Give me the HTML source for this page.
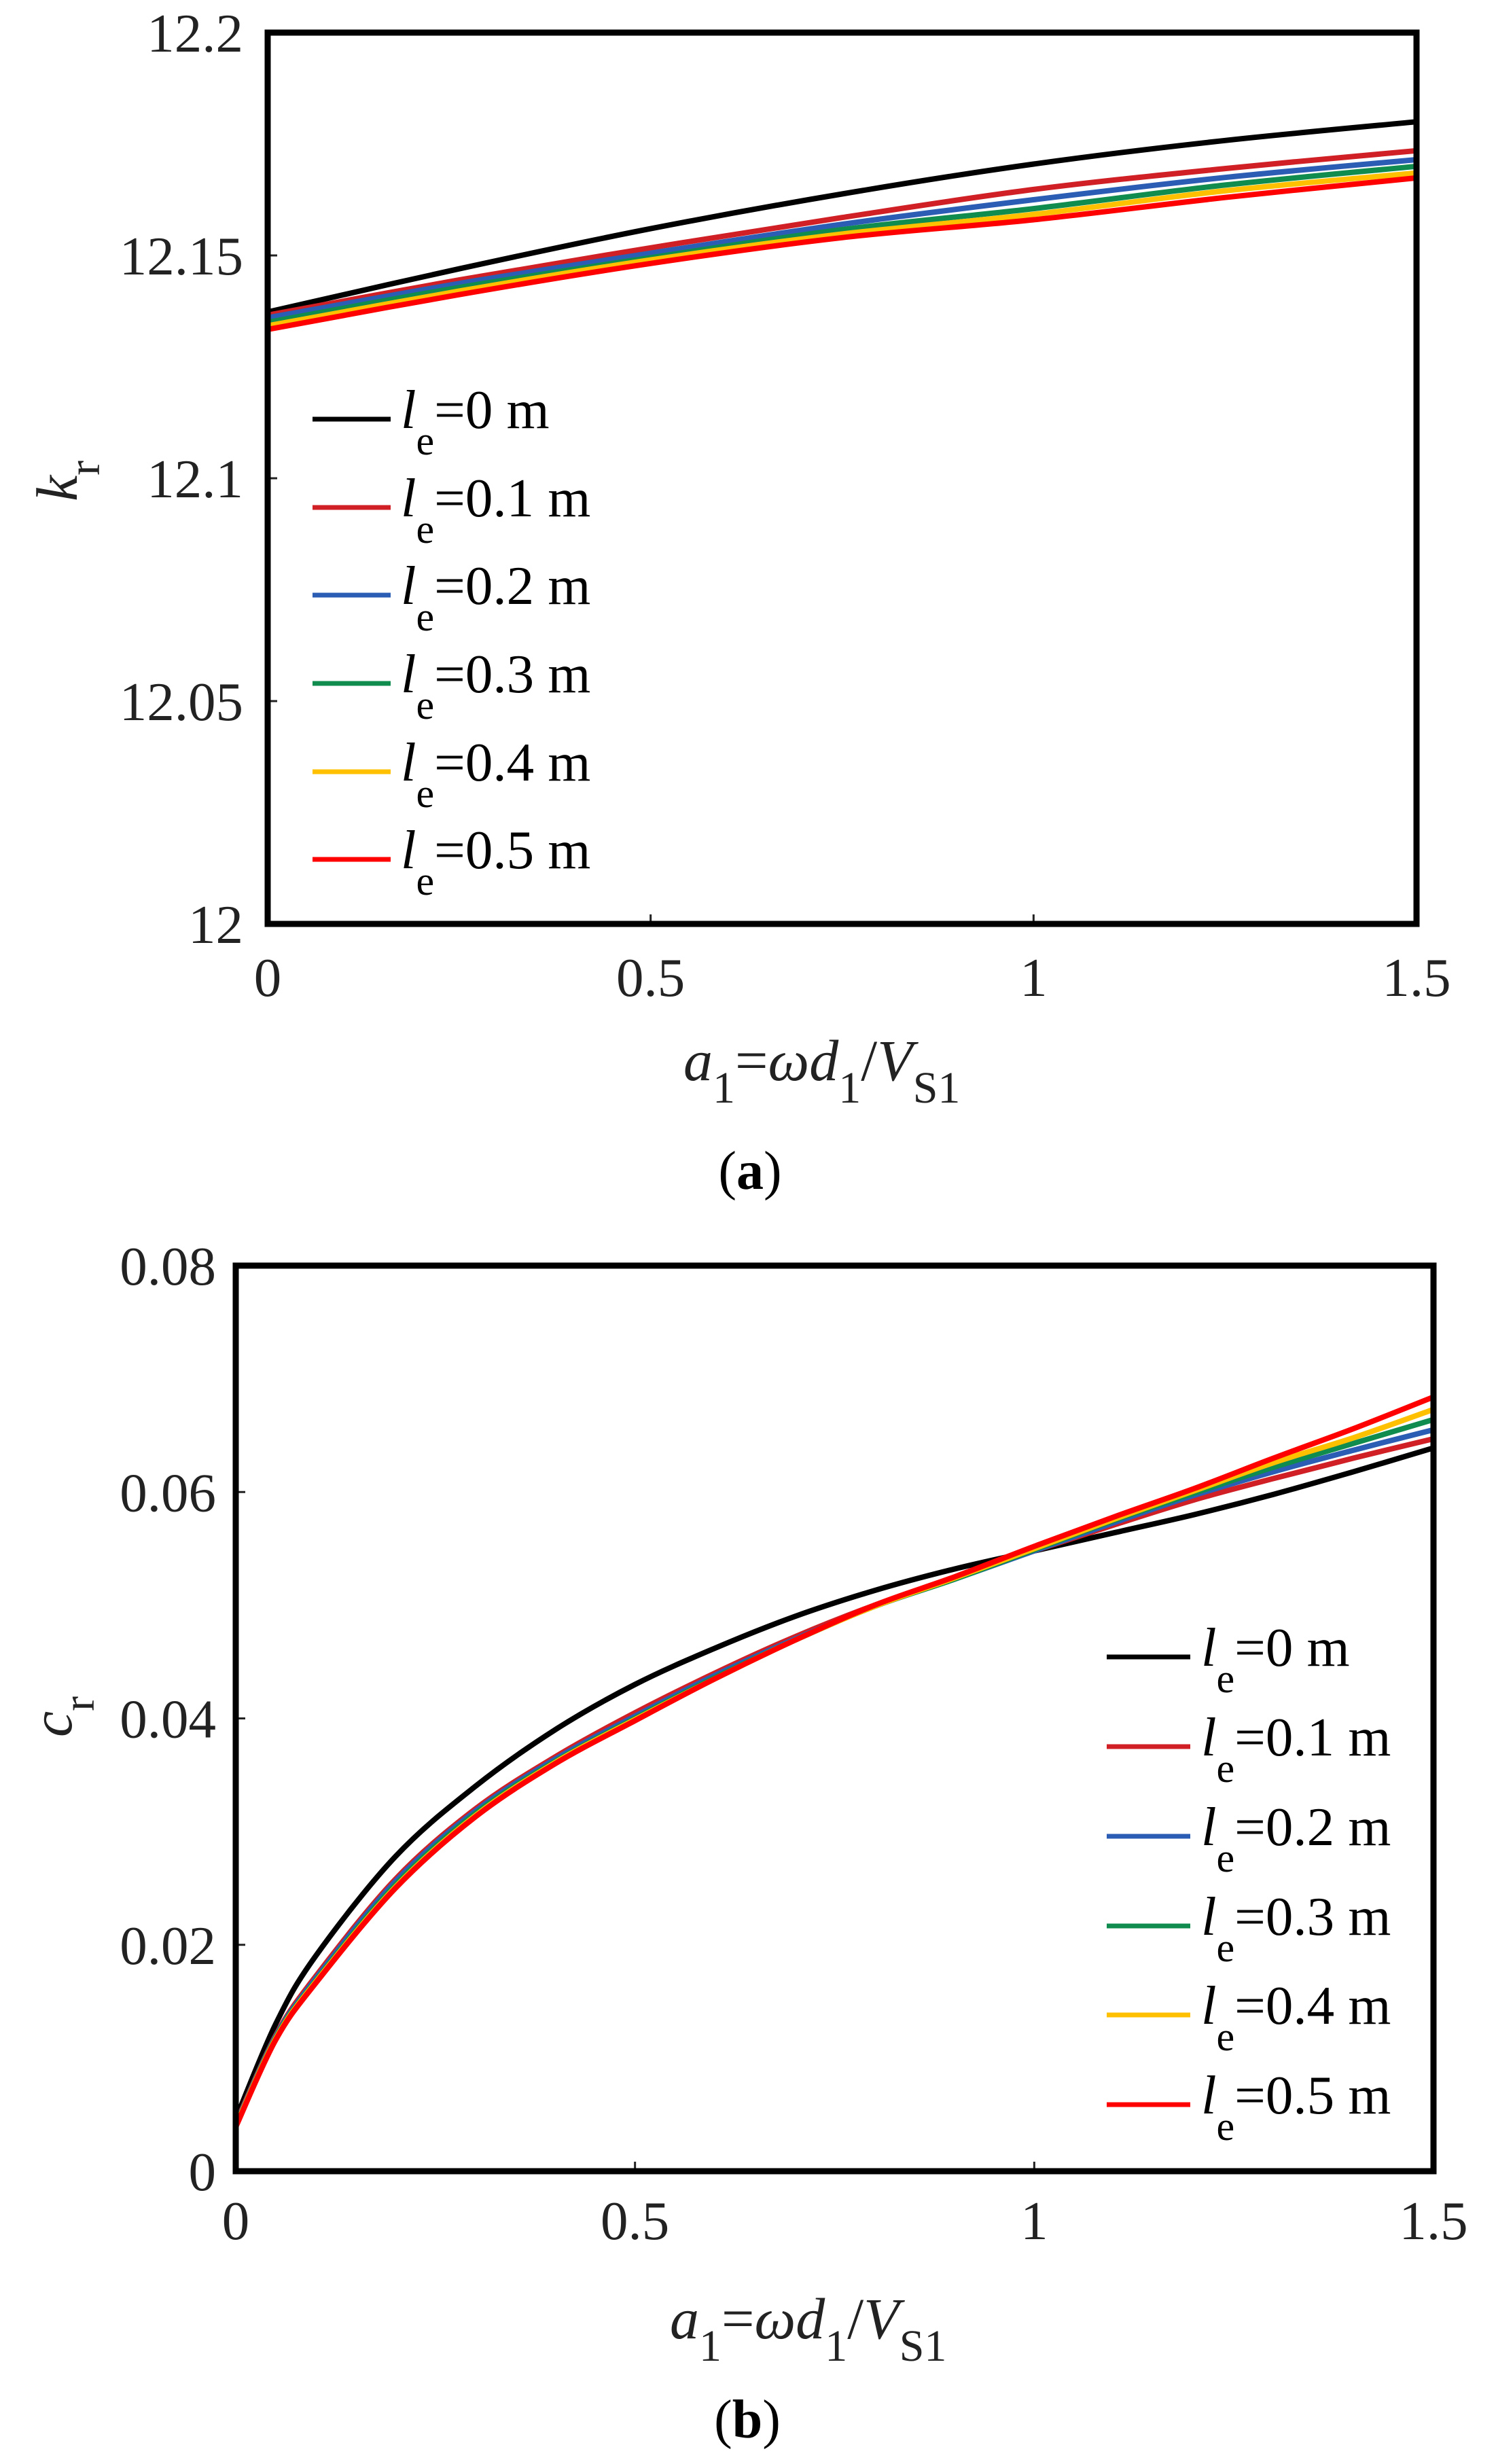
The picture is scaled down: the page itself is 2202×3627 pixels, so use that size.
<!DOCTYPE html>
<html><head><meta charset="utf-8"><style>
html,body{margin:0;padding:0;background:#fff;}
svg{display:block;font-family:"Liberation Serif","Times New Roman",serif;}
text{font-family:"Liberation Serif","Times New Roman",serif;}
</style></head><body>
<svg id="fig" width="2202" height="3627" viewBox="0 0 2202 3627" xmlns="http://www.w3.org/2000/svg" font-family="Liberation Serif, serif"></svg>
<script>
// ---- Chart (a) data ----
const kX = [0, 0.25, 0.5, 0.75, 1.0, 1.25, 1.5];
const kBlack  = [12.1373, 12.1470, 12.1560, 12.1638, 12.1705, 12.1758, 12.1800];
const kRed01  = [12.1366, 12.1445, 12.1517, 12.1585, 12.1648, 12.1695, 12.1735];
const kBlue   = [12.1360, 12.1437, 12.1505, 12.1570, 12.1625, 12.1675, 12.1715];
const kGreen  = [12.1350, 12.1428, 12.1495, 12.1558, 12.1605, 12.1658, 12.1700];
const kYellow = [12.1342, 12.1420, 12.1490, 12.1548, 12.1592, 12.1645, 12.1685];
const kRed05  = [12.1334, 12.1412, 12.1482, 12.1540, 12.1580, 12.1630, 12.1674];
const kYTicks = [12, 12.05, 12.1, 12.15, 12.2];
const kYTickLabels = ["12", "12.05", "12.1", "12.15", "12.2"];
const xTicks = [0, 0.5, 1, 1.5];
const xTickLabels = ["0", "0.5", "1", "1.5"];
// ---- Chart (b) data ----
const cX = [0, 0.05, 0.1, 0.2, 0.3, 0.4, 0.5, 0.6, 0.7, 0.8, 0.9, 1.0, 1.1, 1.2, 1.3, 1.4, 1.5];
const cBlack  = [0.0046,0.0130,0.0190,0.0278,0.0340,0.0390,0.0430,0.0462,0.0490,0.0513,0.0532,0.0548,0.0564,0.0580,0.0598,0.0618,0.0639];
const cRed01  = [0.0042,0.0120,0.0172,0.0258,0.0320,0.0366,0.0405,0.0440,0.0472,0.0500,0.0524,0.0548,0.0571,0.0593,0.0612,0.0630,0.0647];
const cBlue   = [0.0041,0.0119,0.0170,0.0256,0.0318,0.0364,0.0402,0.0438,0.0470,0.0499,0.0523,0.0548,0.0573,0.0597,0.0618,0.0637,0.0655];
const cGreen  = [0.0040,0.0118,0.0168,0.0253,0.0316,0.0362,0.0400,0.0436,0.0469,0.0499,0.0523,0.0549,0.0575,0.0599,0.0622,0.0643,0.0664];
const cYellow = [0.0040,0.0117,0.0167,0.0251,0.0314,0.0361,0.0399,0.0435,0.0469,0.0499,0.0524,0.0550,0.0576,0.0601,0.0626,0.0648,0.0673];
const cRed05  = [0.0039,0.0116,0.0166,0.0250,0.0313,0.0360,0.0398,0.0435,0.0469,0.0500,0.0525,0.0552,0.0578,0.0603,0.0630,0.0656,0.0684];
const cYTicks = [0, 0.02, 0.04, 0.06, 0.08];
const cYTickLabels = ["0", "0.02", "0.04", "0.06", "0.08"];
const legendLabels = ["=0 m", "=0.1 m", "=0.2 m", "=0.3 m", "=0.4 m", "=0.5 m"];
const seriesNames = ["le-0", "le-0.1", "le-0.2", "le-0.3", "le-0.4", "le-0.5"];
const colors = ["#000000", "#d01f25", "#2b5db5", "#0f8c4e", "#ffc000", "#ff0000"];

const NS = "http://www.w3.org/2000/svg";
const FF = "Liberation Serif, Times New Roman, serif";
const svg = document.getElementById("fig");
function mk(tag, attrs, parent) {
  const e = document.createElementNS(NS, tag);
  for (const k in attrs) e.setAttribute(k, attrs[k]);
  if (tag === "text") e.setAttribute("font-family", FF);
  (parent || svg).appendChild(e);
  return e;
}
function smoothPath(P) {
  let d = "M" + P[0][0].toFixed(1) + "," + P[0][1].toFixed(1);
  for (let i = 0; i < P.length - 1; i++) {
    const p0 = P[Math.max(0, i - 1)], p1 = P[i], p2 = P[i + 1], p3 = P[Math.min(P.length - 1, i + 2)];
    const c1x = p1[0] + (p2[0] - p0[0]) / 6, c1y = p1[1] + (p2[1] - p0[1]) / 6;
    const c2x = p2[0] - (p3[0] - p1[0]) / 6, c2y = p2[1] - (p3[1] - p1[1]) / 6;
    d += " C" + c1x.toFixed(1) + "," + c1y.toFixed(1) + " " + c2x.toFixed(1) + "," + c2y.toFixed(1) + " " + p2[0].toFixed(1) + "," + p2[1].toFixed(1);
  }
  return d;
}

function drawChart(cfg) {
  const g = mk("g", {});
  
  
  const L = cfg.L, R = cfg.R, T = cfg.T, B = cfg.B;
  const sx = v => L + (v - 0) / 1.5 * (R - L);
  const sy = v => B - (v - cfg.ymin) / (cfg.ymax - cfg.ymin) * (B - T);
  cfg.series.forEach((ys, i) => {
    const P = cfg.xs.map((x, j) => [sx(x), sy(ys[j])]);
    const p = mk("path", {d: smoothPath(P), fill: "none", stroke: colors[i], "stroke-width": 8, "stroke-linejoin": "round"}, g);
    
    
  });
  cfg.yTicks.forEach((v, i) => {
    const y = sy(v);
    const t = mk("line", {x1: L, x2: L + 14, y1: y, y2: y, stroke: "#222", "stroke-width": 3}, g);
    
    
    const tx = mk("text", {x: cfg.yLabelX, y: y + 28, "text-anchor": "end", "font-size": 81, fill: "#222"}, g);
    tx.textContent = cfg.yLabels[i];
    
    
  });
  xTicks.forEach((v, i) => {
    const x = sx(v);
    const t = mk("line", {x1: x, x2: x, y1: B, y2: B - 14, stroke: "#222", "stroke-width": 3}, g);
    
    
    const tx = mk("text", {x: x, y: cfg.xLabelY, "text-anchor": "middle", "font-size": 81, fill: "#222"}, g);
    tx.textContent = xTickLabels[i];
    
    
  });
  const fr = mk("rect", {x: L, y: T, width: R - L, height: B - T, fill: "none", stroke: "#000", "stroke-width": 9}, g);
  
  
  cfg.legendY.forEach((y, i) => {
    const lg = mk("g", {}, g);
    
    
    mk("line", {x1: cfg.legX1, x2: cfg.legX2, y1: y, y2: y, stroke: colors[i], "stroke-width": 7}, lg);
    const t = mk("text", {x: cfg.legTX, y: y + 13, "font-size": 81, fill: "#000"}, lg);
    t.innerHTML = '<tspan font-style="italic">l</tspan><tspan font-size="60" dy="39">e</tspan><tspan dy="-39">' + legendLabels[i] + '</tspan>';
  });
  const xt = mk("text", {x: cfg.xtX, y: cfg.xtY, "font-size": 86, fill: "#222"}, g);
  
  
  xt.innerHTML = '<tspan font-style="italic">a</tspan><tspan font-size="66" dy="33">1</tspan><tspan dy="-33">=</tspan><tspan font-style="italic">ωd</tspan><tspan font-size="66" dy="33">1</tspan><tspan dy="-33">/</tspan><tspan font-style="italic">V</tspan><tspan font-size="66" dy="33">S1</tspan>';
  const yt = mk("text", {x: 0, y: 0, "font-size": 86, fill: "#222", transform: "translate(" + cfg.ytX + "," + cfg.ytY + ") rotate(-90)"}, g);
  
  
  yt.innerHTML = '<tspan font-style="italic">' + cfg.yTitle + '</tspan><tspan font-size="66" dy="33">r</tspan>';
  const cp = mk("text", {x: cfg.capX, y: cfg.capY, "font-size": 80, fill: "#000", "text-anchor": "middle"}, g);
  
  
  cp.innerHTML = '(<tspan font-weight="bold">' + cfg.cap + '</tspan>)';
}

drawChart({name: "chart-a-kr", L: 394, R: 2085, T: 48, B: 1360, ymin: 12, ymax: 12.2,
  xs: kX, series: [kBlack, kRed01, kBlue, kGreen, kYellow, kRed05],
  yTicks: kYTicks, yLabels: kYTickLabels, yLabelX: 358, xLabelY: 1466,
  legendY: [617, 747, 876, 1006, 1136, 1265], legX1: 460, legX2: 575, legTX: 590,
  xtX: 1006, xtY: 1590, ytX: 113, ytY: 738, yTitle: "k", capX: 1104, capY: 1750, cap: "a"});
drawChart({name: "chart-b-cr", L: 347, R: 2110, T: 1863, B: 3196, ymin: 0, ymax: 0.08,
  xs: cX, series: [cBlack, cRed01, cBlue, cGreen, cYellow, cRed05],
  yTicks: cYTicks, yLabels: cYTickLabels, yLabelX: 318, xLabelY: 3296,
  legendY: [2439, 2571, 2703, 2835, 2966, 3098], legX1: 1629, legX2: 1752, legTX: 1768,
  xtX: 986, xtY: 3442, ytX: 105, ytY: 2557, yTitle: "c", capX: 1100, capY: 3588, cap: "b"});
</script>
</body></html>
